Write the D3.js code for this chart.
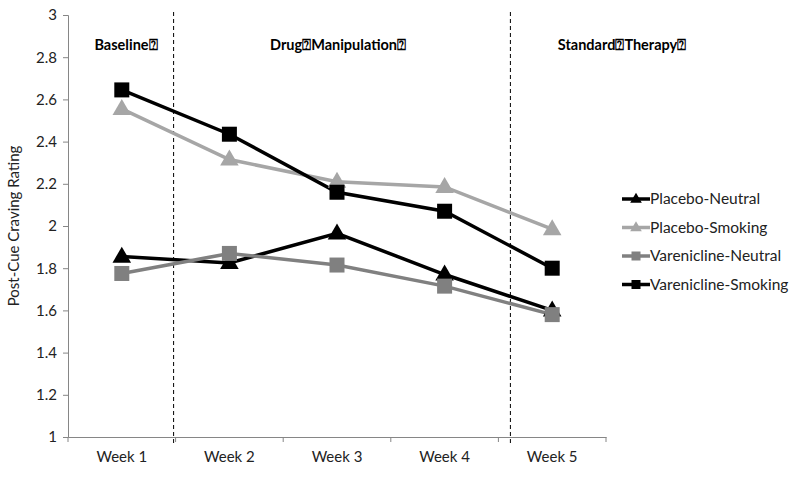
<!DOCTYPE html>
<html><head><meta charset="utf-8">
<script src="https://cdn.jsdelivr.net/npm/d3@7"></script>
<style>body{margin:0;background:#fff}svg{display:block}text{font-family:Lato,"Open Sans",sans-serif}</style>
</head><body><svg id="c" width="795" height="477"></svg>
<script>
const weeks = ["Week 1","Week 2","Week 3","Week 4","Week 5"];
const placeboNeutral = [1.855, 1.825, 1.965, 1.77, 1.60];
const placeboSmoking = [2.555, 2.315, 2.21, 2.185, 1.985];
const vareniclineNeutral = [1.775, 1.87, 1.815, 1.715, 1.58];
const vareniclineSmoking = [2.645, 2.435, 2.16, 2.07, 1.80];
const yTicks = [1,1.2,1.4,1.6,1.8,2,2.2,2.4,2.6,2.8,3];
const phases = [
  {label:"Baseline\u2370", at:"Week 1"},
  {label:"Drug\u2370Manipulation\u2370", at:"Week 3"},
  {label:"Standard\u2370Therapy\u2370", at:"Week 5"}
];
const series = [
  {name:"Placebo-Neutral", values:placeboNeutral, color:"#000000", shape:"tri"},
  {name:"Placebo-Smoking", values:placeboSmoking, color:"#a6a6a6", shape:"tri"},
  {name:"Varenicline-Neutral", values:vareniclineNeutral, color:"#808080", shape:"sq"},
  {name:"Varenicline-Smoking", values:vareniclineSmoking, color:"#000000", shape:"sq"}
];

const svg = d3.select("#c");
const x = d3.scaleBand().domain(weeks).range([68, 606]);
const y = d3.scaleLinear().domain([1,3]).range([437, 15]);
const axisColor = "#868686";

// Y axis
const ya = svg.append("g").attr("transform","translate(68,0)")
  .call(d3.axisLeft(y).tickValues(yTicks).tickSize(5).tickPadding(6).tickFormat(d3.format("~g")));
ya.select(".domain").attr("stroke",axisColor);
ya.selectAll(".tick line").attr("stroke",axisColor);
ya.selectAll(".tick text").attr("font-size",15).attr("fill","#222");

// X axis
const xa = svg.append("g").attr("transform","translate(0,437)")
  .call(d3.axisBottom(x).tickSize(0).tickPadding(14));
xa.select(".domain").attr("stroke",axisColor);
xa.selectAll(".tick text").attr("font-size",15).attr("fill","#222");
const bounds = weeks.map(w=>x(w)).concat([x.range()[1]]);
svg.append("g").selectAll("line").data(bounds).join("line")
  .attr("x1",d=>d).attr("x2",d=>d).attr("y1",437).attr("y2",442)
  .attr("stroke",axisColor);

// Y title
svg.append("text").attr("transform","translate(19,226) rotate(-90)")
  .attr("text-anchor","middle").attr("font-size",15).attr("fill","#222")
  .text("Post-Cue Craving Rating");

// Phase dividers
const dividers = [x("Week 2") - 2, x("Week 5") + 12];
svg.append("g").selectAll("line").data(dividers).join("line")
  .attr("x1",d=>d).attr("x2",d=>d).attr("y1",12).attr("y2",445)
  .attr("stroke","#000").attr("stroke-width",1).attr("stroke-dasharray","4,3");

// Phase labels
const phaseX = {"Week 1": 126, "Week 3": 338, "Week 5": 622};
svg.append("g").selectAll("text").data(phases).join("text")
  .attr("x",d=>phaseX[d.at] ?? x(d.at)+x.bandwidth()/2).attr("y",50)
  .attr("text-anchor","middle").attr("font-size",14.5).attr("font-weight","bold")
  .text(d=>d.label);

// Lines & markers
const cx = w => x(w) + x.bandwidth()/2;
const line = d3.line().x((d,i)=>cx(weeks[i])).y(d=>y(d));
const triPath = s => `M0,${-s*0.62}L${s*0.58},${s*0.38}L${-s*0.58},${s*0.38}Z`;
function marker(g, shape, color, size){
  if(shape==="sq") g.append("rect").attr("x",-size/2).attr("y",-size/2).attr("width",size).attr("height",size).attr("fill",color);
  else g.append("path").attr("d",triPath(size)).attr("fill",color);
}
series.forEach(s=>{
  svg.append("path").datum(s.values).attr("d",line).attr("fill","none")
    .attr("stroke",s.color).attr("stroke-width",3.5);
});
series.forEach(s=>{
  s.values.forEach((v,i)=>{
    const g = svg.append("g").attr("transform",`translate(${cx(weeks[i])},${y(v)})`);
    marker(g, s.shape, s.color, s.shape==="sq"?15:16);
  });
});

// Legend
const lg = svg.append("g");
series.forEach((s,i)=>{
  const yy = 199 + i*28.5;
  lg.append("line").attr("x1",622).attr("x2",650).attr("y1",yy).attr("y2",yy)
    .attr("stroke",s.color).attr("stroke-width",3.5);
  const g = lg.append("g").attr("transform",`translate(636,${yy})`);
  marker(g, s.shape, s.color, s.shape==="sq"?9:10);
  lg.append("text").attr("x",650).attr("y",yy+5).attr("font-size",15.5).attr("fill","#222").text(s.name);
});
</script></body></html>
